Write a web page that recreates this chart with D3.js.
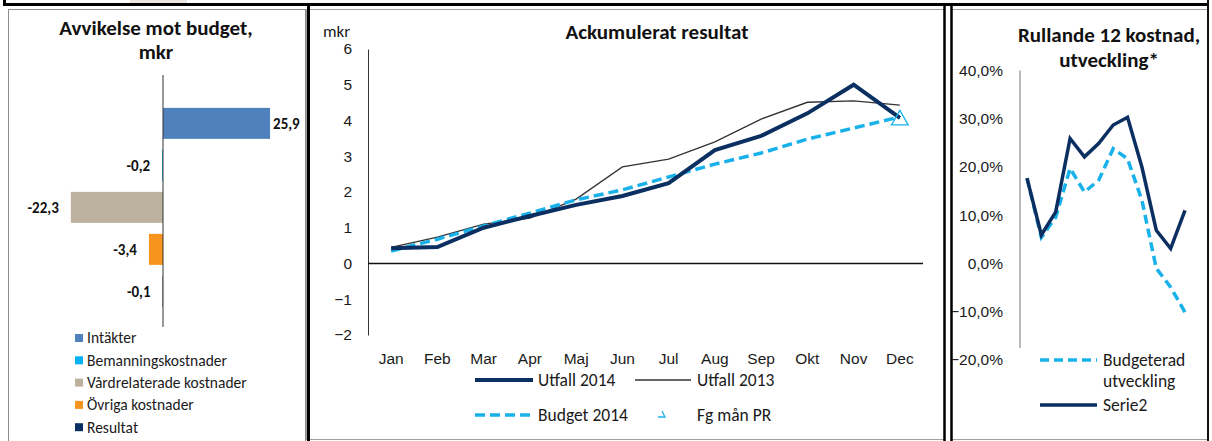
<!DOCTYPE html>
<html>
<head>
<meta charset="utf-8">
<script src="https://cdn.jsdelivr.net/npm/d3@7"></script>
<style>
  body { margin: 0; background: #fff; }
  svg { display: block; font-family: Carlito, Calibri, Lato, sans-serif; }
  .axis text { fill: #1a1a1a; }
</style>
</head>
<body>
<div id="chart"></div>
<script>
// --- data ---
const devCategories = ["Intäkter", "Bemanningskostnader", "Vårdrelaterade kostnader", "Övriga kostnader", "Resultat"]
const devValues = [25.9, -0.2, -22.3, -3.4, -0.1]
const devLabels = ["25,9", "-0,2", "-22,3", "-3,4", "-0,1"]

const months = ["Jan", "Feb", "Mar", "Apr", "Maj", "Jun", "Jul", "Aug", "Sep", "Okt", "Nov", "Dec"]
const utfall2014 = [0.43, 0.46, 1.0, 1.33, 1.64, 1.89, 2.25, 3.17, 3.57, 4.2, 5.0, 4.07]
const utfall2013 = [0.45, 0.74, 1.1, 1.27, 1.8, 2.7, 2.92, 3.4, 4.04, 4.51, 4.55, 4.43]
const budget2014 = [0.35, 0.68, 1.05, 1.41, 1.78, 2.06, 2.42, 2.78, 3.09, 3.48, 3.79, 4.1]
const fgManPR = [{month: "Dec", value: 4.07}]
const accTicks = [-2, -1, 0, 1, 2, 3, 4, 5, 6]

const budgeteradUtveckling = [0.177, 0.054, 0.096, 0.197, 0.148, 0.173, 0.238, 0.217, 0.131, -0.01, -0.049, -0.101]
const serie2 = [0.177, 0.059, 0.107, 0.259, 0.221, 0.249, 0.287, 0.303, 0.20, 0.069, 0.031, 0.11]
const pctTicks = [-0.2, -0.1, 0, 0.1, 0.2, 0.3, 0.4]

// colours
const devColors = ["#4f81bd", "#00b0f0", "#bcb29d", "#f7941d", "#0b2f60"]
const navy = "#0b2f60"
const lightBlue = "#19b1ea"

const W = 1212, H = 441

const svg = d3.select("#chart").append("svg")
    .attr("width", W)
    .attr("height", H)

// frames
svg.append("rect").attr("x", 130).attr("y", 0).attr("width", 57).attr("height", 3).attr("fill", "#ece6e0")
svg.append("rect").attr("x", 8.5).attr("y", 9.5).attr("width", 297).attr("height", 440)
    .attr("fill", "none").attr("stroke", "#8c8c8c")
svg.append("rect").attr("x", 306.5).attr("y", 9.5).attr("width", 638).attr("height", 430)
    .attr("fill", "none").attr("stroke", "#a0a0a0")
svg.append("rect").attr("x", 951.5).attr("y", 9.5).attr("width", 256).attr("height", 430)
    .attr("fill", "none").attr("stroke", "#a0a0a0")
svg.append("path").attr("d", "M4.5,0V4.5H1208.5").attr("fill", "none").attr("stroke", "#000").attr("stroke-width", 3)
svg.append("line").attr("x1", 1208).attr("x2", 1208).attr("y1", 0).attr("y2", H).attr("stroke", "#111").attr("stroke-width", 2)
svg.append("line").attr("x1", 308.5).attr("x2", 308.5).attr("y1", 5).attr("y2", H).attr("stroke", "#000").attr("stroke-width", 3)
svg.append("line").attr("x1", 944.5).attr("x2", 944.5).attr("y1", 5).attr("y2", H).attr("stroke", "#000").attr("stroke-width", 2.5)
svg.append("line").attr("x1", 951.5).attr("x2", 951.5).attr("y1", 5).attr("y2", H).attr("stroke", "#000").attr("stroke-width", 2.5)

// ---------- left: Avvikelse mot budget ----------
const left = svg.append("g")

left.append("text").attr("x", 156).attr("y", 35).attr("text-anchor", "middle")
    .attr("font-size", 21).attr("font-weight", "bold").attr("fill", "#111")
    .text("Avvikelse mot budget,")
left.append("text").attr("x", 156).attr("y", 59).attr("text-anchor", "middle")
    .attr("font-size", 21).attr("font-weight", "bold").attr("fill", "#111")
    .text("mkr")

const devX = d3.scaleLinear().domain([-30, 30]).range([39, 287])
const devY = d3.scaleBand().domain(devCategories).range([75, 327])
    .paddingInner(0.262).paddingOuter(0.631).align(0.62)

left.selectAll(".bar").data(devValues).enter().append("rect")
    .attr("class", "bar")
    .attr("x", d => Math.min(devX(0), devX(d)))
    .attr("width", d => Math.abs(devX(d) - devX(0)))
    .attr("y", (d, i) => devY(devCategories[i]))
    .attr("height", devY.bandwidth())
    .attr("fill", (d, i) => devColors[i])

left.append("line").attr("x1", devX(0)).attr("x2", devX(0))
    .attr("y1", devY.range()[0]).attr("y2", devY.range()[1])
    .attr("stroke", "#333").attr("stroke-width", 1)

left.selectAll(".barlabel").data(devValues).enter().append("text")
    .attr("class", "barlabel")
    .attr("x", d => d >= 0 ? devX(d) + 3 : devX(d) - 12)
    .attr("y", (d, i) => devY(devCategories[i]) + devY.bandwidth() / 2)
    .attr("dy", "0.35em")
    .attr("text-anchor", d => d >= 0 ? "start" : "end")
    .attr("font-size", 15).attr("font-weight", "bold").attr("fill", "#111")
    .text((d, i) => devLabels[i])

const devLegend = left.selectAll(".leg").data(devCategories).enter().append("g")
    .attr("transform", (d, i) => "translate(75," + (338 + i * 22.3) + ")")
devLegend.append("rect").attr("x", 0).attr("y", -4).attr("width", 8).attr("height", 8)
    .attr("fill", (d, i) => devColors[i])
devLegend.append("text").attr("x", 12).attr("dy", "0.35em")
    .attr("font-size", 15.5).attr("fill", "#1a1a1a").text(d => d)

// ---------- middle: Ackumulerat resultat ----------
const mid = svg.append("g")

mid.append("text").attr("x", 657).attr("y", 39).attr("text-anchor", "middle")
    .attr("font-size", 21).attr("font-weight", "bold").attr("fill", "#111")
    .text("Ackumulerat resultat")
mid.append("text").attr("x", 323).attr("y", 37)
    .attr("font-size", 17).attr("fill", "#1a1a1a").text("mkr")

const accX = d3.scaleBand().domain(months).range([368, 923])
const accY = d3.scaleLinear().domain([-2, 6]).range([335, 49])
const mx = m => accX(m) + accX.bandwidth() / 2

mid.append("g").attr("class", "axis")
    .attr("transform", "translate(368,0)")
    .call(d3.axisLeft(accY).tickValues(accTicks).tickSize(0).tickPadding(16).tickFormat(d3.format("d")))
    .call(g => g.select(".domain").attr("stroke", "#333"))
    .call(g => g.selectAll("text").attr("font-size", 15.5).attr("font-family", null))

mid.append("g").attr("class", "axis")
    .attr("transform", "translate(0,335)")
    .call(d3.axisBottom(accX).tickSize(0).tickPadding(18))
    .call(g => g.select(".domain").remove())
    .call(g => g.selectAll("text").attr("font-size", 15.5).attr("font-family", null))

mid.append("line").attr("x1", 368).attr("x2", 923)
    .attr("y1", accY(0)).attr("y2", accY(0))
    .attr("stroke", "#111").attr("stroke-width", 1.5)

const accLine = d3.line().x((d, i) => mx(months[i])).y(d => accY(d))

mid.append("path").attr("d", accLine(utfall2013))
    .attr("fill", "none").attr("stroke", "#333").attr("stroke-width", 1.3)
mid.append("path").attr("d", accLine(budget2014))
    .attr("fill", "none").attr("stroke", lightBlue).attr("stroke-width", 3.5)
    .attr("stroke-dasharray", "10,5")
mid.append("path").attr("d", accLine(utfall2014))
    .attr("fill", "none").attr("stroke", navy).attr("stroke-width", 4)
    .attr("stroke-linejoin", "miter")

const tri = d3.symbol().type(d3.symbolTriangle).size(120)
mid.selectAll(".fg").data(fgManPR).enter().append("path")
    .attr("transform", d => "translate(" + mx(d.month) + "," + (accY(d.value) + 2) + ")")
    .attr("d", tri).attr("fill", "none").attr("stroke", lightBlue).attr("stroke-width", 1.3)

// legend
const midLeg = mid.append("g").attr("font-size", 17.5).attr("fill", "#1a1a1a")
midLeg.append("line").attr("x1", 475).attr("x2", 533).attr("y1", 380).attr("y2", 380)
    .attr("stroke", navy).attr("stroke-width", 4)
midLeg.append("text").attr("x", 538).attr("y", 380).attr("dy", "0.35em").text("Utfall 2014")
midLeg.append("line").attr("x1", 635).attr("x2", 691).attr("y1", 380).attr("y2", 380)
    .attr("stroke", "#333").attr("stroke-width", 1.3)
midLeg.append("text").attr("x", 697).attr("y", 380).attr("dy", "0.35em").text("Utfall 2013")
midLeg.append("line").attr("x1", 475).attr("x2", 533).attr("y1", 415).attr("y2", 415)
    .attr("stroke", lightBlue).attr("stroke-width", 3.5).attr("stroke-dasharray", "10,5")
midLeg.append("text").attr("x", 538).attr("y", 415).attr("dy", "0.35em").text("Budget 2014")
midLeg.append("path").attr("d", "M658,417H665L662,411")
    .attr("fill", "none").attr("stroke", lightBlue).attr("stroke-width", 1.3)
midLeg.append("text").attr("x", 697).attr("y", 415).attr("dy", "0.35em").text("Fg mån PR")

// ---------- right: Rullande 12 kostnad ----------
const right = svg.append("g")

right.append("text").attr("x", 1109).attr("y", 42).attr("text-anchor", "middle")
    .attr("font-size", 21).attr("font-weight", "bold").attr("fill", "#111")
    .text("Rullande 12 kostnad,")
right.append("text").attr("x", 1109).attr("y", 67).attr("text-anchor", "middle")
    .attr("font-size", 21).attr("font-weight", "bold").attr("fill", "#111")
    .text("utveckling*")

const rolX = d3.scalePoint().domain(months).range([1027, 1185])
const rolY = d3.scaleLinear().domain([-0.2, 0.4]).range([360, 70.5])
const pctFmt = d => d3.format(".1f")(d * 100).replace(".", ",") + "%"

right.append("g").attr("class", "axis")
    .attr("transform", "translate(1020,0)")
    .call(d3.axisLeft(rolY).tickValues(pctTicks).tickSize(0).tickPadding(17).tickFormat(pctFmt))
    .call(g => g.select(".domain").remove())
    .call(g => g.selectAll("text").attr("font-size", 15.5).attr("font-family", null))

right.append("line").attr("x1", 1020).attr("x2", 1020)
    .attr("y1", rolY(0.4)).attr("y2", rolY(-0.175))
    .attr("stroke", "#777").attr("stroke-width", 1)

const rolLine = d3.line().x((d, i) => rolX(months[i])).y(d => rolY(d))

right.append("path").attr("d", rolLine(budgeteradUtveckling))
    .attr("fill", "none").attr("stroke", lightBlue).attr("stroke-width", 3.5)
    .attr("stroke-dasharray", "9,5")
right.append("path").attr("d", rolLine(serie2))
    .attr("fill", "none").attr("stroke", navy).attr("stroke-width", 3.5)

const rolLeg = right.append("g").attr("font-size", 17.5).attr("fill", "#1a1a1a")
rolLeg.append("line").attr("x1", 1040).attr("x2", 1097).attr("y1", 360).attr("y2", 360)
    .attr("stroke", lightBlue).attr("stroke-width", 3.5).attr("stroke-dasharray", "9,5")
rolLeg.append("text").attr("x", 1103).attr("y", 360).attr("dy", "0.35em").text("Budgeterad")
rolLeg.append("text").attr("x", 1103).attr("y", 381).attr("dy", "0.35em").text("utveckling")
rolLeg.append("line").attr("x1", 1040).attr("x2", 1097).attr("y1", 405).attr("y2", 405)
    .attr("stroke", navy).attr("stroke-width", 3.5)
rolLeg.append("text").attr("x", 1103).attr("y", 405).attr("dy", "0.35em").text("Serie2")
</script>
</body>
</html>
